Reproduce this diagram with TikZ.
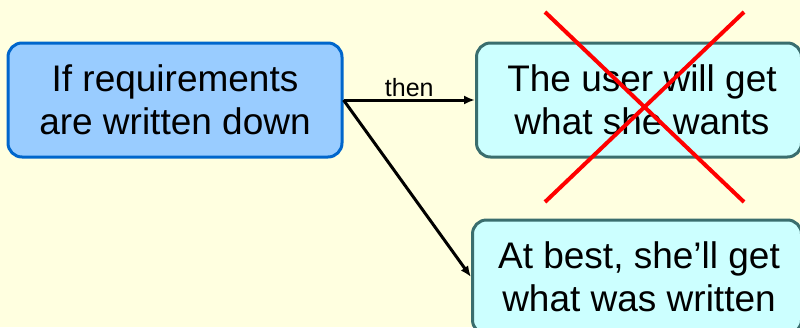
\documentclass[tikz,border=0pt]{standalone}
\usepackage{fontspec}
\setmainfont{Liberation Sans}
\usetikzlibrary{arrows.meta}
\definecolor{bgc}{HTML}{FFFFE0}
\definecolor{bluefill}{HTML}{99CCFF}
\definecolor{blueedge}{HTML}{0066CC}
\definecolor{cyanfill}{HTML}{CCFFFF}
\definecolor{tealedge}{HTML}{3A6E6E}
\begin{document}
\begin{tikzpicture}[x=1pt,y=-1pt,
  box/.style={draw, line width=3pt, rounded corners=14pt, align=center, inner sep=0pt,
    minimum height=114pt, font=\fontsize{37}{43}\selectfont},
  condbox/.style={box, fill=bluefill, draw=blueedge, minimum width=334pt},
  resbox/.style={box, fill=cyanfill, draw=tealedge},
  conn/.style={draw=black, line width=3pt, -{Latex[length=11pt,width=9pt]}},
  cross/.style={draw=red, line width=4pt}]
\clip (0,0) rectangle (800,327);
\fill[bgc] (0,0) rectangle (800,327);
\node[condbox] (L) at (175,100) {If requirements\\are written down};
\node[resbox, minimum width=325pt] (T) at (639,100) {\hspace*{6pt}The user will get\\\hspace*{6pt}what she wants};
\node[resbox, minimum width=329pt] (B) at (637,277) {\hspace*{4pt}At best, she’ll get\\\hspace*{4pt}what was written};
\draw[conn] (L.east) -- node[above, inner sep=2pt, font=\fontsize{25}{27}\selectfont] (then) {then} (T.west);
\draw[conn] (L.east) -- (B.west);
\coordinate (x1) at (545,12);
\coordinate (x2) at (744,202);
\coordinate (x3) at (744,12);
\coordinate (x4) at (545,202);
\draw[cross] (x1) -- (x2);
\draw[cross] (x3) -- (x4);
\end{tikzpicture}
\end{document}
